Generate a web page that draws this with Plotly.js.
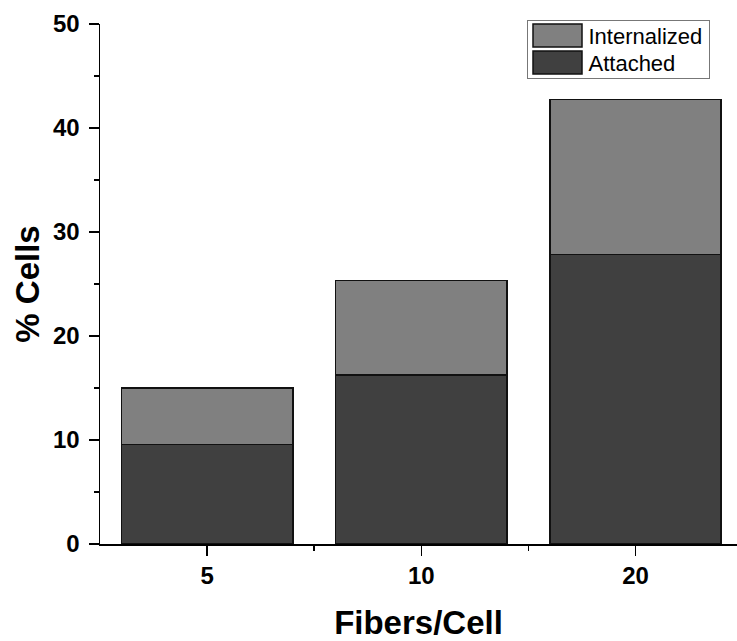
<!DOCTYPE html>
<html>
<head>
<meta charset="utf-8">
<script src="https://cdn.plot.ly/plotly-3.0.1.min.js"></script>
<style>html,body{margin:0;padding:0;background:#fff;}</style>
</head>
<body>
<div id="chart" style="width:737px;height:641px;"></div>
<script>
const categories = ['5', '10', '20'];
const categoryPos = [0, 1, 2];
const attached = [9.55, 16.25, 27.85];
const internalized = [5.45, 9.1, 14.9];
const yTicks = [0, 10, 20, 30, 40, 50];

const FONT = 'Liberation Sans, Arial, sans-serif';

const traces = [
  {
    type: 'bar', name: 'Attached', x: categoryPos, y: attached,
    marker: {color: '#404040', line: {color: '#111', width: 1.5}},
    width: 0.8
  },
  {
    type: 'bar', name: 'Internalized', x: categoryPos, y: internalized,
    marker: {color: '#808080', line: {color: '#111', width: 1.5}},
    width: 0.8
  }
];

const layout = {
  width: 737, height: 641,
  margin: {l: 100, r: 0, t: 24, b: 97},
  paper_bgcolor: '#fff', plot_bgcolor: '#fff',
  barmode: 'stack',
  showlegend: true,
  legend: {
    x: 0.671, y: 1.006, xanchor: 'left', yanchor: 'top',
    traceorder: 'reversed',
    bordercolor: '#777', borderwidth: 1, bgcolor: '#fff',
    font: {family: FONT, size: 22, color: '#000'},
    itemwidth: 30, tracegroupgap: 0
  },
  xaxis: {
    range: [-0.5, 2.474],
    tickmode: 'array', tickvals: categoryPos, ticktext: categories,
    ticks: 'outside', ticklen: 10, tickwidth: 1.5, tickcolor: '#000',
    minor: {tickmode: 'array', tickvals: [0.5, 1.5], ticks: 'outside', ticklen: 5, tickwidth: 1.5, tickcolor: '#000'},
    showline: true, linecolor: '#000', linewidth: 1.5,
    showgrid: false, zeroline: false,
    tickfont: {family: FONT, size: 24, color: '#000', weight: 'bold'},
    title: {text: 'Fibers/Cell', font: {family: FONT, size: 33, color: '#000', weight: 'bold'}, standoff: 22}
  },
  yaxis: {
    range: [0, 50],
    tickmode: 'array', tickvals: yTicks, ticktext: yTicks.map(String),
    ticks: 'outside', ticklen: 10, tickwidth: 1.5, tickcolor: '#000',
    ticklabelstandoff: 4,
    minor: {tickmode: 'array', tickvals: [5, 15, 25, 35, 45], ticks: 'outside', ticklen: 5, tickwidth: 1.5, tickcolor: '#000'},
    showline: true, linecolor: '#000', linewidth: 1.5,
    showgrid: false, zeroline: false,
    tickfont: {family: FONT, size: 24, color: '#000', weight: 'bold'},
    title: {text: '% Cells', font: {family: FONT, size: 33, color: '#000', weight: 'bold'}, standoff: 3}
  }
};

Plotly.newPlot('chart', traces, layout, {staticPlot: true, displayModeBar: false}).then(function (gd) {
  // Restyle the legend to match the reference's large swatches.
  const leg = gd.querySelector('g.legend');
  if (!leg) return;
  leg.setAttribute('transform', 'translate(527.5,20.5)');
  const bg = leg.querySelector('rect.bg');
  if (bg) {
    bg.setAttribute('x', 0); bg.setAttribute('y', 0);
    bg.setAttribute('width', 182); bg.setAttribute('height', 58);
  }
  const sb = leg.querySelector('g.scrollbox');
  if (sb) { sb.removeAttribute('clip-path'); sb.setAttribute('transform', 'translate(0,0)'); }
  leg.querySelectorAll('g.groups').forEach(function (g) { g.setAttribute('transform', 'translate(0,0)'); });
  leg.querySelectorAll('g.traces').forEach(function (tr) {
    const txt = tr.querySelector('text.legendtext');
    const name = txt ? txt.textContent : '';
    const top = name === 'Internalized';
    tr.setAttribute('transform', 'translate(0,0)');
    tr.querySelectorAll('g').forEach(function (g) { g.removeAttribute('transform'); });
    tr.querySelectorAll('g.legendpoints path').forEach(function (p) {
      p.removeAttribute('transform');
      p.setAttribute('d', top ? 'M5.5,3.5h49v23h-49Z' : 'M5.5,30.5h49v23h-49Z');
      p.style.strokeWidth = '1.5px';
    });
    if (txt) {
      txt.setAttribute('x', 61);
      txt.setAttribute('y', top ? 23 : 50);
      txt.removeAttribute('transform');
      txt.querySelectorAll('tspan').forEach(function (t) { t.removeAttribute('x'); t.removeAttribute('dy'); });
    }
  });
});
</script>
</body>
</html>
